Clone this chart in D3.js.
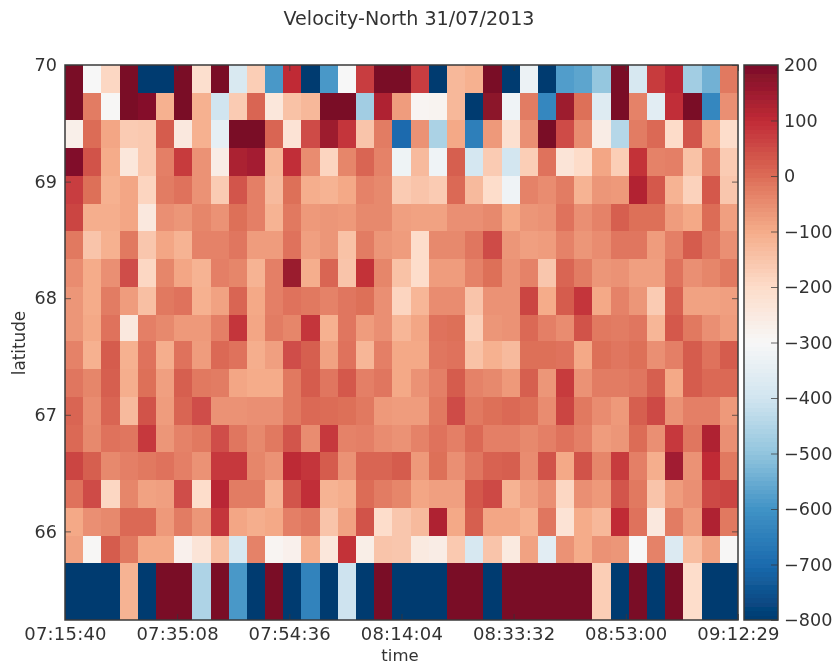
<!DOCTYPE html>
<html>
<head>
<meta charset="utf-8">
<style>
html,body{margin:0;padding:0;background:#fff;}
svg{display:block;}
text{font-family:"DejaVu Sans",sans-serif;fill:#333;}
</style>
<script src="https://cdn.jsdelivr.net/npm/d3@7"></script>
</head>
<body>
<svg id="chart" width="839" height="668"></svg>
<script>
const chartTitle = "Velocity-North 31/07/2013";
const xTitle = "time";
const yTitle = "latitude";
const timeTicks = ["07:15:40","07:35:08","07:54:36","08:14:04","08:33:32","08:53:00","09:12:29"];
const latTicks = [70,69,68,67,66];
const cbarTicks = [200,100,0,-100,-200,-300,-400,-500,-600,-700,-800];
const latEdges = [70,69.76,69.53,69.29,69.05,68.81,68.58,68.34,68.10,67.86,67.63,67.39,67.15,66.91,66.68,66.44,66.20,65.96,65.73,65.24];
const colorStops = ["#003a70","#1c6bae","#4193c6","#92c5de","#d1e5f0","#f7f7f7","#fddcc9","#f5ac8a","#dc6c56","#c02a36","#7a0c28"];
const colorValues = [-800,-700,-600,-500,-400,-300,-200,-100,0,100,200];

const row00 = [200,-300,-190,200,-800,-800,200,-210,200,-380,-170,-590,100,-800,-590,-300,70,200,200,70,-800,-125,-110,200,-800,-330,-800,-580,-565,-495,200,-385,75,110,-475,-540,-20];
const row01 = [200,-25,-295,200,185,-110,200,-110,-400,-165,10,-240,-145,-125,200,200,-475,125,-75,-290,-285,-125,-800,175,-320,-25,-630,150,-5,-365,200,-35,-355,95,200,-630,-55];
const row02 = [-270,0,-90,-165,-160,25,-245,-110,-345,200,200,10,-225,50,150,85,-150,-25,-700,-60,-460,-95,-650,-70,-215,-55,200,50,-50,-260,-445,-25,5,-200,35,-95,-205];
const row03 = [190,40,-100,-240,-160,-30,75,-60,-260,130,140,-120,95,-50,-185,-40,10,-35,-325,-130,-320,20,-390,-165,-395,-170,-10,-230,-200,-90,-170,90,-35,-30,-145,-30,-165];
const row04 = [70,-5,-110,-90,-185,-25,-10,-60,-165,35,-30,-130,-5,-105,-115,-95,-35,-45,-165,-150,-165,5,-130,-205,-320,-35,-50,-25,-115,-65,-70,120,30,-115,-180,30,-155];
const row05 = [60,-105,-105,-90,-245,-55,-65,-40,-60,-5,-30,-115,-20,-70,-65,-70,-45,-45,-80,-85,-85,-55,-55,-45,-95,-65,-60,-10,-55,-35,20,-5,-5,-75,-95,0,-80];
const row06 = [-20,-150,-110,-20,-155,-90,-115,-35,-35,-15,-75,-75,-10,-80,-65,-145,-25,-65,-75,-205,-45,-45,-15,50,-65,-80,-75,-35,-65,-50,-15,-15,-75,-30,25,-15,-55];
const row07 = [-50,-100,-55,45,-190,-40,-90,-115,-30,-40,-115,-30,155,-105,10,-150,90,-40,-145,-205,-75,-75,-35,-5,-60,-35,-155,10,-25,-65,-60,-80,-80,-10,-55,-40,-20];
const row08 = [-65,-100,-25,-75,-140,-20,-10,-110,-85,10,-95,-30,-10,-20,-35,-15,-5,-55,-185,-120,-50,-50,-150,-60,-60,60,-100,25,85,-95,-35,-65,-165,15,-85,-85,-80];
const row09 = [-65,-95,-10,-245,-30,-45,-70,-70,-30,85,-90,-25,-40,85,-110,-15,-75,-55,-120,-90,-10,-5,-175,-65,-60,5,-30,-50,40,-20,-25,-15,-120,30,-20,-55,-75];
const row10 = [-35,-110,25,-110,-10,-105,-10,-75,5,-10,-105,-80,45,20,-85,-10,-120,-30,-95,-95,-15,-10,-145,-110,-130,-5,-5,-10,-95,-5,-15,-5,-55,-30,25,-10,25];
const row11 = [-15,-40,20,-105,-5,-80,20,-20,-25,-90,-100,-100,-20,25,-15,30,-30,-15,-95,-60,-30,25,-35,-45,-70,20,-65,75,-60,-25,-25,-15,20,-95,25,5,5];
const row12 = [10,-50,10,-130,40,-75,10,45,-60,-60,-55,-55,-20,5,0,-5,-20,-70,-75,-75,-20,50,-20,-5,5,-5,-50,60,-20,-50,-70,20,55,-60,-30,-30,-70];
const row13 = [5,-45,-10,-15,80,-65,-35,-20,45,-15,-45,-20,35,-50,80,-35,-30,-50,-60,-35,-10,-30,5,-30,-30,-45,-30,-10,-30,-75,-65,0,-55,80,-15,125,-55];
const row14 = [60,20,-45,-30,-20,-10,-30,-60,80,80,-40,-60,105,85,25,-60,10,10,25,-70,-5,-55,-15,15,20,-50,40,-95,40,-40,75,-30,-105,145,-60,100,-20];
const row15 = [-10,50,-190,-40,-85,-80,45,-205,110,-25,-25,-115,35,95,-115,-105,0,-25,-40,-90,-80,-80,30,55,-115,-80,-55,-190,-55,-70,35,-20,-150,-75,-55,55,60];
const row16 = [-95,-55,-45,5,5,-70,-25,-65,85,-90,-105,-95,-30,-15,-150,-85,40,-205,-155,-130,125,-95,20,-90,-90,-110,-15,-225,-100,-125,100,-10,-245,-25,-75,125,-20];
const row17 = [-85,-295,25,-20,-95,-95,-275,-230,-135,-385,-35,-290,-275,-105,-240,90,-265,-150,-155,-250,-260,-160,-385,-150,-250,-85,-355,-60,-100,-60,-65,-300,-35,-370,-135,-85,-295];
const row18 = [-800,-800,-800,-115,-800,200,200,-455,200,-590,-800,200,-800,-640,-800,-405,-800,200,-800,-800,-800,200,200,-800,200,200,200,200,200,-170,-800,200,-800,200,-205,-800,-800];
const rows = [row00,row01,row02,row03,row04,row05,row06,row07,row08,row09,row10,row11,row12,row13,row14,row15,row16,row17,row18];

const secondsOf = s => { const p = s.split(":").map(Number); return p[0]*3600 + p[1]*60 + p[2]; };
const box = {left:65, right:738, top:65, bottom:620};
const cbar = {left:744, right:778};

const svg = d3.select("#chart");
const soft = svg.append("defs").append("filter").attr("id","soft")
  .attr("filterUnits","userSpaceOnUse").attr("x",0).attr("y",0).attr("width",839).attr("height",668);
soft.append("feGaussianBlur").attr("stdDeviation",0.5);
const root = svg.append("g").attr("filter","url(#soft)");

const color = d3.scaleLinear().domain(colorValues).range(colorStops).clamp(true);
const xTime = d3.scaleLinear()
  .domain([secondsOf(timeTicks[0]), secondsOf(timeTicks[timeTicks.length-1])])
  .range([box.left, box.right]);
const xCol = d3.scaleLinear().domain([0, row00.length]).range([box.left, box.right]);
const yLat = d3.scaleLinear().domain([latEdges[0], latEdges[latEdges.length-1]]).range([box.top, box.bottom]);
const yBar = d3.scaleLinear().domain([200,-800]).range([box.top, box.bottom]);

// heat map cells
rows.forEach((row, r) => {
  root.append("g").attr("shape-rendering","crispEdges").selectAll("rect").data(row).join("rect")
    .attr("x", (d,i) => xCol(i))
    .attr("y", yLat(latEdges[r]))
    .attr("width", (d,i) => xCol(i+1)-xCol(i))
    .attr("height", yLat(latEdges[r+1])-yLat(latEdges[r]))
    .attr("fill", d => color(d));
});

// colour bar
const barSteps = d3.range(0, 128);
const stepValue = i => -800 + (i+0.5)*1000/barSteps.length;
root.append("g").attr("shape-rendering","crispEdges").selectAll("rect").data(barSteps).join("rect")
  .attr("x", cbar.left)
  .attr("width", cbar.right-cbar.left)
  .attr("y", i => yBar(-800 + (i+1)*1000/barSteps.length))
  .attr("height", (box.bottom-box.top)/barSteps.length)
  .attr("fill", i => color(stepValue(i)));

const frame = "#3a3a3a";
const drawFrame = (x0,x1) => root.append("rect")
  .attr("x",x0).attr("y",box.top).attr("width",x1-x0).attr("height",box.bottom-box.top)
  .attr("fill","none").attr("stroke",frame).attr("stroke-width",1.5);
drawFrame(box.left, box.right);
drawFrame(cbar.left, cbar.right);

const fontTick = 17.6;
const tickStyle = g => {
  g.select(".domain").remove();
  g.selectAll("line").attr("stroke",frame).attr("stroke-opacity",0.75);
  g.selectAll("text").attr("font-size",fontTick).attr("font-family",null);
};

const xAxis = d3.axisBottom(xTime)
  .tickValues(timeTicks.map(secondsOf))
  .tickFormat((d,i) => timeTicks[i])
  .tickSizeInner(-6).tickSizeOuter(0).tickPadding(7.5);
root.append("g").attr("transform",`translate(0,${box.bottom})`).call(xAxis).call(tickStyle)
  .selectAll("text").attr("font-size",18).attr("letter-spacing",0.2);

const xTop = d3.axisTop(xTime).tickValues(timeTicks.map(secondsOf)).tickFormat("").tickSizeInner(-6).tickSizeOuter(0);
root.append("g").attr("transform",`translate(0,${box.top})`).call(xTop).call(tickStyle);

const yAxis = d3.axisLeft(yLat).tickValues(latTicks).tickFormat(d3.format("d"))
  .tickSizeInner(-6).tickSizeOuter(0).tickPadding(8);
root.append("g").attr("transform",`translate(${box.left},0)`).call(yAxis).call(tickStyle);

const yRight = d3.axisRight(yLat).tickValues(latTicks).tickFormat("").tickSizeInner(-6).tickSizeOuter(0);
root.append("g").attr("transform",`translate(${box.right},0)`).call(yRight).call(tickStyle);

const barAxis = d3.axisRight(yBar).tickValues(cbarTicks)
  .tickFormat(d => d < 0 ? "\u2212" + Math.abs(d) : String(d))
  .tickSizeInner(-7).tickSizeOuter(0).tickPadding(6);
root.append("g").attr("transform",`translate(${cbar.right},0)`).call(barAxis).call(tickStyle);

// titles
root.append("text").attr("x",409).attr("y",25).attr("text-anchor","middle").attr("font-size",19.1).text(chartTitle);
root.append("text").attr("x",400).attr("y",661).attr("text-anchor","middle").attr("font-size",16.5).text(xTitle);
root.append("text").attr("transform","translate(25,343) rotate(-90)").attr("text-anchor","middle").attr("font-size",16.8).text(yTitle);
</script>
</body>
</html>
